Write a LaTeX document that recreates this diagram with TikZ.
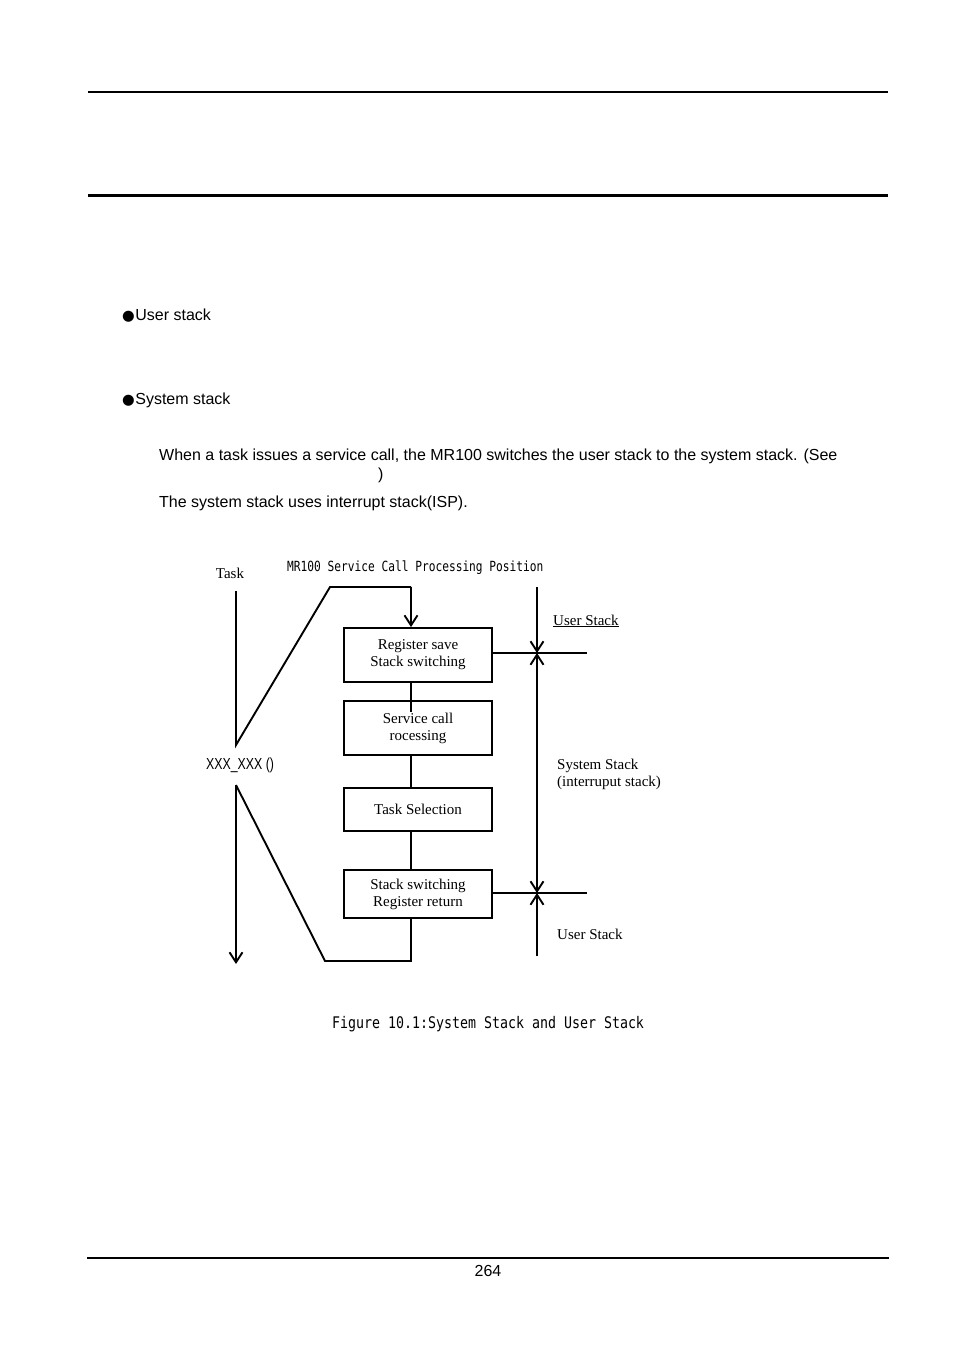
\documentclass[tikz,border=0pt]{standalone}
\usepackage{fontspec}
\newfontfamily\arial{Liberation Sans}
\newfontfamily\serif{Liberation Serif}
\newfontfamily\mono{DejaVu Sans Mono}
\newfontfamily\djv{DejaVu Sans}
\usetikzlibrary{arrows.meta}
\begin{document}
\begin{tikzpicture}[x=1pt,y=-1pt,
  box/.style={draw,line width=1.9pt,minimum width=148pt,inner sep=0pt,align=center,font=\serif\fontsize{15}{17}\selectfont},
  ln/.style={line width=1.9pt},
  arr/.style={line width=1.9pt,-{Straight Barb[length=10pt,width=13pt]}},
  dbl/.style={line width=1.9pt,{Straight Barb[length=10pt,width=13pt]}-{Straight Barb[length=10pt,width=13pt]}},
  body/.style={anchor=west,inner sep=0pt,font=\arial\fontsize{16}{18}\selectfont},
  lbl/.style={inner sep=0pt,font=\serif\fontsize{15}{17}\selectfont,align=left},
  rule/.style={line width=#1},
]
\useasboundingbox (0,0) rectangle (954,1350);
% page rules
\coordinate (r1a) at (88,92);  \coordinate (r1b) at (888,92);
\coordinate (r2a) at (88,195); \coordinate (r2b) at (888,195);
\coordinate (r3a) at (87,1258); \coordinate (r3b) at (889,1258);
\draw[rule=2pt] (r1a) -- (r1b);
\draw[rule=3pt] (r2a) -- (r2b);
\draw[rule=1.5pt] (r3a) -- (r3b);
% body text
\node[body] (b1) at (122,316) {{\djv\fontsize{14.5}{15}\selectfont ●}\hspace{0.5pt}User stack};
\node[body] (b2) at (122,400) {{\djv\fontsize{14.5}{15}\selectfont ●}\hspace{0.5pt}System stack};
\node[body] (p1) at (159,456) {When a task issues a service call, the MR100 switches the user stack to the system stack. (See};
\node[body] (p2) at (378,475) {)};
\node[body] (p3) at (159,503) {The system stack uses interrupt stack(ISP).};
\node[inner sep=0pt,font=\arial\fontsize{16}{18}\selectfont] (pg) at (488,1271) {264};
% diagram labels
\node[lbl] (task) at (230,573) {Task};
\node[anchor=west,inner sep=0pt,font=\mono\fontsize{14}{16}\selectfont] (title) at (287,568) {\scalebox{0.8}[1]{MR100 Service Call Processing Position}};
\node[anchor=west,inner sep=0pt,font=\arial\fontsize{16}{18}\selectfont] (xxx) at (206,765) {\scalebox{0.77}[1]{XXX\_XXX ()}};
\node[lbl,anchor=west] (us1) at (553,621) {\underline{User Stack}};
\node[lbl,anchor=west] (ss) at (557,774) {System Stack\\(interruput stack)};
\node[lbl,anchor=west] (us2) at (557,934) {User Stack};
\node[anchor=west,inner sep=0pt,font=\mono\fontsize{16}{18}\selectfont] (cap) at (332,1024) {\scalebox{0.83}[1]{Figure 10.1:System Stack and User Stack}};
% boxes
\node[box,minimum height=54pt] (bx1) at (418,655) {Register save\\Stack switching};
\node[box,minimum height=54pt] (bx2) at (418,728) {Service call\\rocessing};
\node[box,minimum height=43pt] (bx3) at (418,809.5) {Task Selection};
\node[box,minimum height=48pt] (bx4) at (418,894) {Stack switching\\Register return};
% flow coordinates
\coordinate (ta) at (236,591);
\coordinate (tb) at (236,745);
\coordinate (tc) at (330,587);
\coordinate (td) at (411,587);
\coordinate (te) at (236,785);
\coordinate (tf) at (236,964);
\coordinate (tg) at (325,961);
\coordinate (th) at (411,961);
\coordinate (ti) at (411,712);
% task flow
\draw[ln] (ta) -- (tb) -- (tc) -- (td);
\draw[arr] (td) -- (bx1.north -| td);
\draw[ln] (bx1.south -| td) -- (ti);
\draw[ln] (bx2.south -| td) -- (bx3.north -| td);
\draw[ln] (bx3.south -| td) -- (bx4.north -| td);
\draw[ln] (bx4.south -| td) -- (th) -- (tg) -- (te);
\draw[arr] (te) -- (tf);
% stack markers
\coordinate (h1) at (587,653);
\coordinate (h2) at (587,893);
\coordinate (v0) at (537,587);
\coordinate (v1) at (537,653);
\coordinate (v2) at (537,893);
\coordinate (v3) at (537,956);
\draw[ln] ([yshift=2pt]bx1.east) -- (h1);
\draw[ln] ([yshift=1pt]bx4.east) -- (h2);
\draw[arr] (v0) -- (v1);
\draw[dbl] (v1) -- (v2);
\draw[arr] (v3) -- (v2);
\end{tikzpicture}
\end{document}
